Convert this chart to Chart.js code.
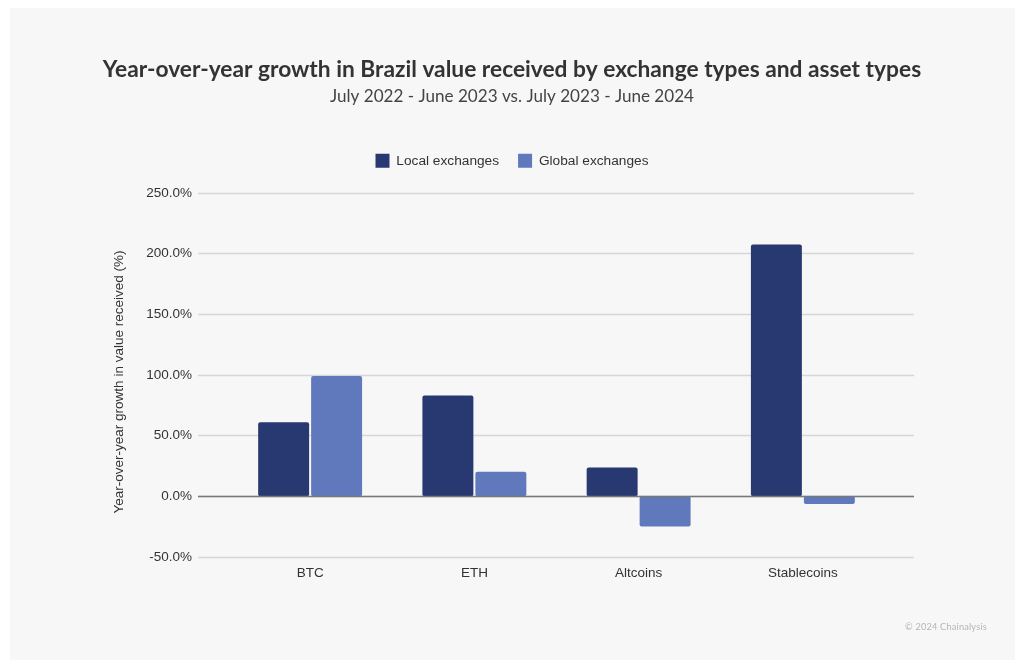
<!DOCTYPE html>
<html>
<head>
<meta charset="utf-8">
<title>Brazil value received</title>
<style>
html, body { margin: 0; padding: 0; background: #fff; width: 1024px; height: 669px; overflow: hidden; }
#card { position: absolute; left: 10px; top: 8px; width: 1005px; height: 652px; background: #f7f7f7; }
#wrap { position: absolute; left: 0; top: 0; width: 1024px; height: 669px; }
#credit { position: absolute; right: 37px; top: 621px; font: 9.2px Lato, sans-serif; color: #b5b5b5; letter-spacing: .2px; }
</style>
<script src="https://cdn.jsdelivr.net/npm/chart.js@4"></script>
</head>
<body>
<div id="card"></div>
<div id="wrap"><canvas id="chart" width="1024" height="669"></canvas></div>
<div id="credit">© 2024 Chainalysis</div>
<script>
var categories = ['BTC', 'ETH', 'Altcoins', 'Stablecoins'];
var localValues = [61, 83, 23.5, 207.5];
var globalValues = [99, 20, -25, -6.5];
var seriesNames = ['Local exchanges', 'Global exchanges'];
var chartTitle = 'Year-over-year growth in Brazil value received by exchange types and asset types';
var chartSubtitle = 'July 2022 - June 2023 vs. July 2023 - June 2024';
var yTitle = 'Year-over-year growth in value received (%)';

// grid runs past the first and last category, wider than the bars' area
var wideGrid = {
    id: 'wideGrid',
    beforeInit: function (chart) {
        // extra room under the legend
        var fit = chart.legend.fit;
        chart.legend.fit = function () {
            fit.call(this);
            this.height += 15;
        };
    },
    beforeDatasetsDraw: function (chart) {
        var ctx = chart.ctx, y = chart.scales.y, area = chart.chartArea;
        ctx.save();
        y.ticks.forEach(function (t) {
            var py = Math.round(y.getPixelForValue(t.value)) + 0.5;
            ctx.beginPath();
            ctx.moveTo(area.left - 30, py);
            ctx.lineTo(area.right + 29, py);
            ctx.lineWidth = 1.3;
            ctx.strokeStyle = '#d6d6d6';
            ctx.stroke();
        });
        ctx.restore();
    },
    afterDatasetsDraw: function (chart) {
        var ctx = chart.ctx, y = chart.scales.y, area = chart.chartArea;
        var py = Math.round(y.getPixelForValue(0)) + 0.5;
        ctx.save();
        ctx.beginPath();
        ctx.moveTo(area.left - 30, py);
        ctx.lineTo(area.right + 29, py);
        ctx.lineWidth = 1.4;
        ctx.strokeStyle = '#77787a';
        ctx.stroke();
        // axis title sits a bit below the middle of the plot
        ctx.translate(119, 382);
        ctx.rotate(-Math.PI / 2);
        ctx.textAlign = 'center';
        ctx.textBaseline = 'middle';
        ctx.fillStyle = '#333';
        ctx.font = '13.5px "Liberation Sans"';
        ctx.fillText(yTitle, 0, 0);
        ctx.restore();
    }
};

new Chart(document.getElementById('chart').getContext('2d'), {
    type: 'bar',
    data: {
        labels: categories,
        datasets: [
            { label: seriesNames[0], data: localValues, backgroundColor: '#283870', borderRadius: 2, borderSkipped: 'middle' },
            { label: seriesNames[1], data: globalValues, backgroundColor: '#6078bc', borderRadius: 2, borderSkipped: 'middle' }
        ]
    },
    options: {
        responsive: false,
        animation: false,
        devicePixelRatio: 1,
        layout: { padding: { left: 0, right: 0, top: 56, bottom: 88 } },
        datasets: { bar: { categoryPercentage: 0.645, barPercentage: 0.962 } },
        plugins: {
            tooltip: { enabled: false },
            title: {
                display: true,
                text: chartTitle,
                color: '#333',
                font: { family: 'Lato', size: 22.75, weight: '700' },
                padding: { top: 0, bottom: 3 }
            },
            subtitle: {
                display: true,
                text: chartSubtitle,
                color: '#444',
                font: { family: 'Lato', size: 17.1, weight: '400' },
                padding: { top: 0, bottom: 28 }
            },
            legend: {
                position: 'top',
                labels: {
                    boxWidth: 14,
                    boxHeight: 14,
                    padding: 19,
                    color: '#333',
                    font: { family: 'Liberation Sans', size: 13.7 }
                }
            }
        },
        scales: {
            x: {
                grid: { display: false },
                border: { display: false },
                ticks: { color: '#333', padding: 0, font: { family: 'Liberation Sans', size: 13.5 } }
            },
            y: {
                min: -50,
                max: 250,
                grid: { display: false },
                border: { display: false },
                afterFit: function (scale) { scale.width = 228; },
                ticks: {
                    stepSize: 50,
                    padding: 28,
                    color: '#333',
                    font: { family: 'Liberation Sans', size: 13.5 },
                    callback: function (v) { return v.toFixed(1) + '%'; }
                }
            },
            // empty axis, only keeps the plot clear of the right edge
            yRight: {
                position: 'right',
                grid: { display: false },
                border: { display: false },
                ticks: { display: false },
                afterFit: function (scale) { scale.width = 139; }
            }
        }
    },
    plugins: [wideGrid]
});
</script>
</body>
</html>
